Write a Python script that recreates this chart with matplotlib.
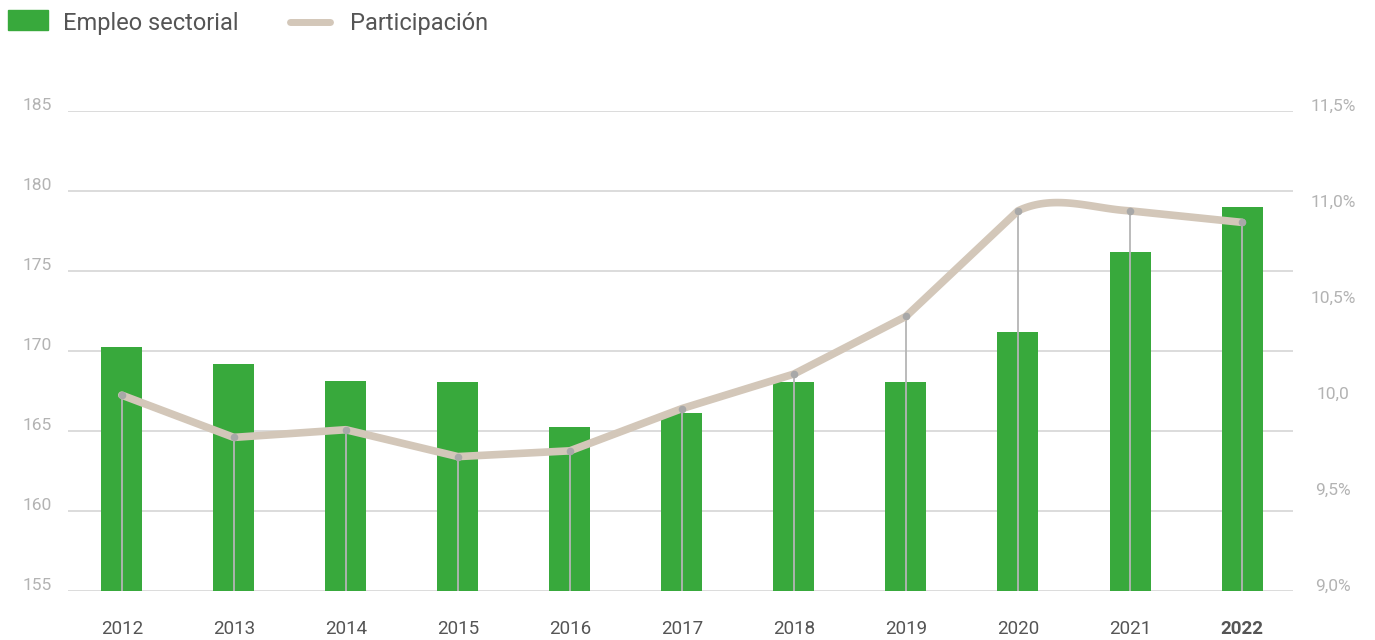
import numpy as np
import matplotlib
matplotlib.use("Agg")
import matplotlib.pyplot as plt
from matplotlib.patches import Rectangle
from matplotlib.lines import Line2D
from matplotlib.transforms import ScaledTranslation

plt.rcParams['font.family'] = ['Roboto', 'DejaVu Sans']

# data
years = ['2012', '2013', '2014', '2015', '2016', '2017',
         '2018', '2019', '2020', '2021', '2022']
empleo = [170.25, 169.2, 168.1, 168.05, 165.25, 166.1,
          168.05, 168.05, 171.2, 176.2, 179.0]
participacion = [10.02, 9.80, 9.84, 9.70, 9.73, 9.95,
                 10.13, 10.43, 10.98, 10.98, 10.92]
left_ticks = [155, 160, 165, 170, 175, 180, 185]
right_ticks = [9.0, 9.5, 10.0, 10.5, 11.0, 11.5]
right_labels = ['9,0%', '9,5%', '10,0', '10,5%', '11,0%', '11,5%']

GREEN = '#38a93c'
BEIGE = '#d3c7b9'
DOT = '#a8a8a8'
GRID = '#d2d2d2'
LIGHT = '#b3b3b3'
DARK = '#555555'

# the original line is straight except for the rounded 2020-2021 stretch
SMOOTH_SEGMENTS = {8}


def path_points(xs, ys, smooth, n=40):
    xs = np.asarray(xs, float)
    ys = np.asarray(ys, float)
    out_x, out_y = [xs[0]], [ys[0]]
    t = np.linspace(0, 1, n)[1:]
    for i in range(len(xs) - 1):
        if i not in smooth:
            out_x.append(xs[i + 1])
            out_y.append(ys[i + 1])
            continue
        # catmull-rom hermite segment
        a = max(i - 1, 0)
        b = min(i + 2, len(xs) - 1)
        m0 = (ys[i + 1] - ys[a]) / (xs[i + 1] - xs[a])
        m1 = (ys[b] - ys[i]) / (xs[b] - xs[i])
        dx = xs[i + 1] - xs[i]
        h00 = 2 * t**3 - 3 * t**2 + 1
        h10 = t**3 - 2 * t**2 + t
        h01 = -2 * t**3 + 3 * t**2
        h11 = t**3 - t**2
        out_x.extend(xs[i] + t * dx)
        out_y.extend(h00 * ys[i] + h10 * m0 * dx + h01 * ys[i + 1] + h11 * m1 * dx)
    return np.array(out_x), np.array(out_y)


fig = plt.figure(figsize=(13.75, 6.4), dpi=100)
ax = fig.add_axes([68 / 1375, 1 - 591 / 640, (1293 - 68) / 1375, 480 / 640])
ax2 = ax.twinx()

x = np.arange(len(years))

ax.bar(x, np.array(empleo) - 155, bottom=155, width=0.366, color=GREEN, zorder=2)
ax.set_ylim(155, 185)
ax.set_xlim(-0.48, len(years) - 1 + 0.455)
ax.set_yticks(left_ticks)
ax.set_yticklabels([str(v) for v in left_ticks])
ax.grid(axis='y', color=GRID, linewidth=1.1)
ax.set_axisbelow(True)
ax.tick_params(axis='y', length=0, pad=11.5, labelsize=12.5, labelcolor=LIGHT)
ax.set_xticks(x)
ax.set_xticklabels(years)
ax.tick_params(axis='x', length=0, pad=21, labelsize=13.5, labelcolor=DARK)
ax.get_xticklabels()[-1].set_fontweight('bold')
for s in ax.spines.values():
    s.set_visible(False)

# right axis: line
ax2.set_ylim(9.0, 11.5)
ax2.vlines(x, 9.0, participacion, color='#b5b5b5', linewidth=1.3, zorder=2)
sx, sy = path_points(x, participacion, SMOOTH_SEGMENTS)
ax2.plot(sx, sy, color=BEIGE, linewidth=5.5, solid_capstyle='round',
         solid_joinstyle='round', zorder=3)
ax2.scatter(x, participacion, s=30, color=DOT, zorder=4, linewidths=0)
ax2.set_yticks(right_ticks)
ax2.set_yticklabels(right_labels)
ax2.tick_params(axis='y', length=0, pad=28.8, labelsize=12.5, labelcolor=LIGHT)
for s in ax2.spines.values():
    s.set_visible(False)

# labels sit a little above their gridlines
up = ScaledTranslation(0, 6.5 / 100, fig.dpi_scale_trans)
for lab in ax.get_yticklabels():
    lab.set_transform(lab.get_transform() + up)
for lab in ax2.get_yticklabels():
    lab.set_horizontalalignment('center')
    lab.set_transform(lab.get_transform() + up)

# legend drawn by hand at the top left
W, H = 1375, 640
fig.patches.append(Rectangle((8 / W, 1 - 30 / H), 40 / W, 20 / H,
                             transform=fig.transFigure, color=GREEN))
fig.text(63 / W, 1 - 23.5 / H, 'Empleo sectorial', fontsize=17, color=DARK,
         va='center', ha='left')
fig.lines.append(Line2D([290 / W, 330 / W], [1 - 22 / H, 1 - 22 / H],
                        transform=fig.transFigure, color=BEIGE, linewidth=5,
                        solid_capstyle='round'))
fig.text(350 / W, 1 - 23.5 / H, 'Participación', fontsize=17, color=DARK,
         va='center', ha='left')

fig.savefig('out.png', dpi=100)
